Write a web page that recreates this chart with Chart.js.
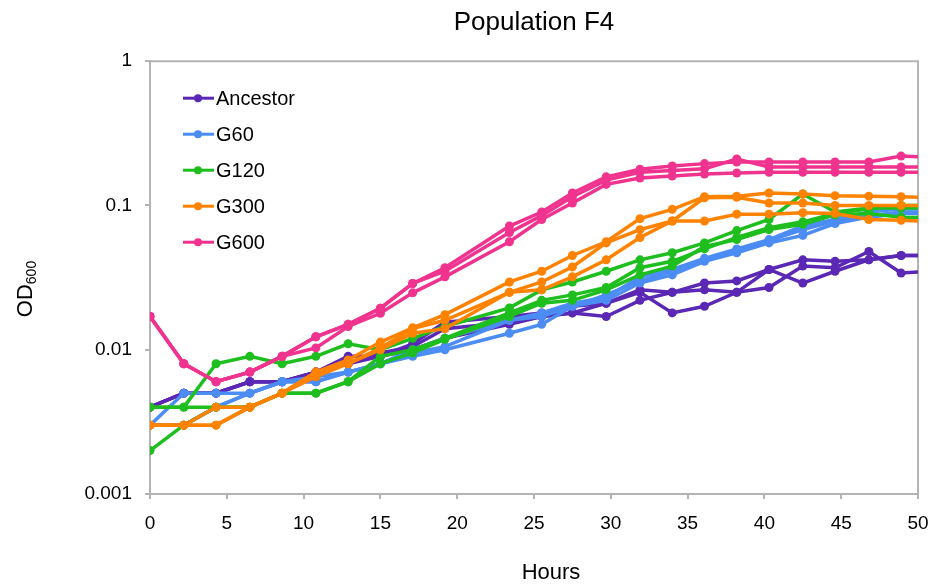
<!DOCTYPE html>
<html>
<head>
<meta charset="utf-8">
<script src="https://cdn.jsdelivr.net/npm/chart.js@4.4.1/dist/chart.umd.min.js"></script>
<style>
  html, body { margin: 0; padding: 0; background: #fff; }
  #wrap { width: 935px; height: 588px; }
</style>
</head>
<body>
<div id="wrap"><canvas id="odChart" width="935" height="588"></canvas></div>
<script>
// sampling times (hours)
const hours = [0, 2.2, 4.3, 6.5, 8.6, 10.8, 12.9, 15.0, 17.1, 19.2, 23.4, 25.5, 27.5, 29.7, 31.9, 34.0, 36.1, 38.2, 40.3, 42.5, 44.6, 46.8, 48.9, 51.0];

const groupNames = ['Ancestor', 'G60', 'G120', 'G300', 'G600'];
const groupColors = ['#5a28b4', '#4b8cf5', '#1ebe1e', '#ff8200', '#f0338f'];
const yTickValues = [0.001, 0.01, 0.1, 1];
const yTickLabels = ['0.001', '0.01', '0.1', '1'];

// OD600 readings, three replicates per group
const ancestor1 = [0.004, 0.005, 0.005, 0.006, 0.006, 0.007, 0.009, 0.009, 0.011, 0.0155, 0.017, 0.018, 0.020, 0.021, 0.026, 0.025, 0.029, 0.030, 0.036, 0.042, 0.041, 0.042, 0.045, 0.045];
const ancestor2 = [0.004, 0.005, 0.005, 0.006, 0.006, 0.007, 0.008, 0.0095, 0.0105, 0.014, 0.0155, 0.017, 0.018, 0.017, 0.022, 0.025, 0.026, 0.025, 0.027, 0.038, 0.037, 0.048, 0.034, 0.035];
const ancestor3 = [0.004, 0.005, 0.005, 0.006, 0.006, 0.007, 0.008, 0.009, 0.010, 0.012, 0.015, 0.017, 0.018, 0.021, 0.025, 0.018, 0.020, 0.025, 0.036, 0.029, 0.035, 0.042, 0.045, 0.045];

const g60_1 = [0.003, 0.005, 0.005, 0.005, 0.006, 0.006, 0.007, 0.008, 0.010, 0.012, 0.016, 0.018, 0.021, 0.023, 0.032, 0.036, 0.043, 0.050, 0.058, 0.072, 0.080, 0.090, 0.095, 0.095];
const g60_2 = [0.003, 0.003, 0.004, 0.005, 0.006, 0.0065, 0.007, 0.008, 0.0095, 0.0105, 0.016, 0.017, 0.020, 0.024, 0.030, 0.035, 0.042, 0.048, 0.057, 0.068, 0.078, 0.085, 0.090, 0.090];
const g60_3 = [0.003, 0.003, 0.004, 0.005, 0.006, 0.006, 0.007, 0.008, 0.009, 0.010, 0.013, 0.015, 0.020, 0.022, 0.029, 0.033, 0.041, 0.047, 0.055, 0.062, 0.075, 0.083, 0.088, 0.088];

const g120_1 = [0.004, 0.004, 0.008, 0.009, 0.008, 0.009, 0.011, 0.010, 0.012, 0.0145, 0.0195, 0.026, 0.0295, 0.035, 0.042, 0.047, 0.055, 0.067, 0.080, 0.120, 0.090, 0.096, 0.096, 0.096];
const g120_2 = [0.004, 0.004, 0.004, 0.004, 0.005, 0.005, 0.006, 0.009, 0.010, 0.012, 0.018, 0.022, 0.024, 0.027, 0.037, 0.041, 0.050, 0.060, 0.070, 0.077, 0.088, 0.095, 0.100, 0.100];
const g120_3 = [0.002, 0.003, 0.004, 0.004, 0.005, 0.005, 0.006, 0.008, 0.0095, 0.0118, 0.017, 0.021, 0.022, 0.026, 0.033, 0.038, 0.052, 0.058, 0.068, 0.074, 0.086, 0.088, 0.083, 0.082];

const g300_1 = [0.003, 0.003, 0.004, 0.004, 0.005, 0.007, 0.0085, 0.0113, 0.0142, 0.0175, 0.0295, 0.035, 0.045, 0.056, 0.081, 0.094, 0.115, 0.116, 0.122, 0.120, 0.117, 0.116, 0.115, 0.113];
const g300_2 = [0.003, 0.003, 0.003, 0.004, 0.005, 0.007, 0.008, 0.0103, 0.014, 0.016, 0.025, 0.0295, 0.0375, 0.055, 0.068, 0.078, 0.113, 0.114, 0.104, 0.104, 0.100, 0.100, 0.100, 0.100];
const g300_3 = [0.003, 0.003, 0.003, 0.004, 0.005, 0.0065, 0.008, 0.010, 0.013, 0.014, 0.025, 0.026, 0.032, 0.042, 0.060, 0.078, 0.078, 0.087, 0.087, 0.089, 0.088, 0.080, 0.079, 0.077];

const g600_1 = [0.017, 0.008, 0.006, 0.007, 0.009, 0.0123, 0.015, 0.0194, 0.0288, 0.037, 0.072, 0.090, 0.122, 0.158, 0.178, 0.188, 0.195, 0.200, 0.200, 0.200, 0.200, 0.200, 0.220, 0.215];
const g600_2 = [0.017, 0.008, 0.006, 0.007, 0.009, 0.0123, 0.015, 0.0194, 0.0288, 0.035, 0.065, 0.085, 0.115, 0.150, 0.170, 0.175, 0.180, 0.210, 0.185, 0.185, 0.185, 0.185, 0.185, 0.185];
const g600_3 = [0.017, 0.008, 0.006, 0.007, 0.009, 0.0103, 0.0145, 0.0179, 0.0248, 0.032, 0.056, 0.080, 0.104, 0.140, 0.155, 0.160, 0.165, 0.168, 0.170, 0.170, 0.170, 0.170, 0.170, 0.170];

const replicates = [
  [ancestor1, ancestor2, ancestor3],
  [g60_1, g60_2, g60_3],
  [g120_1, g120_2, g120_3],
  [g300_1, g300_2, g300_3],
  [g600_1, g600_2, g600_3]
];

const FONT = '"Liberation Sans", Arial, Helvetica, sans-serif';

const datasets = [];
replicates.forEach((reps, g) => {
  reps.forEach((vals, r) => {
    datasets.push({
      label: groupNames[g] + ' ' + (r + 1),
      data: hours.map((h, i) => ({ x: h, y: vals[i] })),
      borderColor: groupColors[g],
      backgroundColor: groupColors[g],
      borderWidth: 3.5,
      pointRadius: 4.5,
      pointBorderWidth: 0,
      tension: 0,
      order: 4 - g
    });
  });
});

// border on top and right of the plot area
const frameBox = {
  id: 'frameBox',
  beforeDatasetsDraw(chart) {
    const { ctx, chartArea: a } = chart;
    ctx.save();
    ctx.strokeStyle = '#b4b4b4';
    ctx.lineWidth = 2;
    ctx.beginPath();
    ctx.moveTo(a.left, a.top);
    ctx.lineTo(a.right, a.top);
    ctx.lineTo(a.right, a.bottom);
    ctx.stroke();
    ctx.restore();
  }
};

// legend inside plot, line with dot
const insideLegend = {
  id: 'insideLegend',
  afterDraw(chart) {
    const { ctx, chartArea: a } = chart;
    ctx.save();
    ctx.font = '20px ' + FONT;
    ctx.textBaseline = 'middle';
    groupNames.forEach((name, i) => {
      const y = a.top + 37 + i * 36;
      const x0 = a.left + 33;
      ctx.strokeStyle = groupColors[i];
      ctx.fillStyle = groupColors[i];
      ctx.lineWidth = 3;
      ctx.beginPath();
      ctx.moveTo(x0, y);
      ctx.lineTo(x0 + 31, y);
      ctx.stroke();
      ctx.beginPath();
      ctx.arc(x0 + 15, y, 4, 0, Math.PI * 2);
      ctx.fill();
      ctx.fillStyle = '#000';
      ctx.fillText(name, x0 + 33, y + 1);
    });
    ctx.restore();
  }
};

// axis titles: OD600 with subscript, Hours a bit right of centre
const axisTitles = {
  id: 'axisTitles',
  afterDraw(chart) {
    const { ctx } = chart;
    ctx.save();
    ctx.fillStyle = '#000';
    ctx.font = '22px ' + FONT;
    ctx.textAlign = 'center';
    ctx.textBaseline = 'middle';
    ctx.fillText('Hours', 551, 573);

    ctx.textAlign = 'left';
    ctx.translate(24, 289);
    ctx.rotate(-Math.PI / 2);
    ctx.textBaseline = 'alphabetic';
    const w1 = ctx.measureText('OD').width;
    ctx.font = '14px ' + FONT;
    const w2 = ctx.measureText('600').width;
    const start = -(w1 + w2) / 2;
    ctx.font = '22px ' + FONT;
    ctx.fillText('OD', start, 8);
    ctx.font = '14px ' + FONT;
    ctx.fillText('600', start + w1, 12);
    ctx.restore();
  }
};

new Chart(document.getElementById('odChart'), {
  type: 'line',
  data: { datasets: datasets },
  options: {
    responsive: false,
    animation: false,
    layout: { padding: { left: 0, right: 17, top: 0, bottom: 0 } },
    plugins: {
      legend: { display: false },
      tooltip: { enabled: false },
      title: {
        display: true,
        fullSize: false,
        text: 'Population F4',
        color: '#000',
        font: { family: FONT, size: 26, weight: 'normal' },
        padding: { top: 7, bottom: 23 }
      }
    },
    scales: {
      x: {
        type: 'linear',
        min: 0,
        max: 50,
        afterFit(scale) {
          scale.height = 94;
          scale.paddingRight = 0;
          scale.paddingLeft = 0;
        },
        ticks: {
          stepSize: 5,
          color: '#000',
          padding: 13,
          font: { family: FONT, size: 19 }
        },
        grid: { drawOnChartArea: false, drawTicks: true, tickLength: 5, color: '#b4b4b4', lineWidth: 2 },
        border: { color: '#b4b4b4', width: 2 }
      },
      y: {
        type: 'logarithmic',
        min: 0.001,
        max: 1,
        afterFit(scale) { scale.width = 150; },
        afterBuildTicks(scale) {
          scale.ticks = yTickValues.map(v => ({ value: v }));
        },
        ticks: {
          color: '#000',
          padding: 13,
          font: { family: FONT, size: 19 },
          callback: (v) => {
            const i = yTickValues.indexOf(v);
            return i >= 0 ? yTickLabels[i] : '';
          }
        },
        grid: { drawOnChartArea: false, drawTicks: true, tickLength: 5, color: '#b4b4b4', lineWidth: 2 },
        border: { color: '#b4b4b4', width: 2 }
      }
    }
  },
  plugins: [frameBox, insideLegend, axisTitles]
});
</script>
</body>
</html>
